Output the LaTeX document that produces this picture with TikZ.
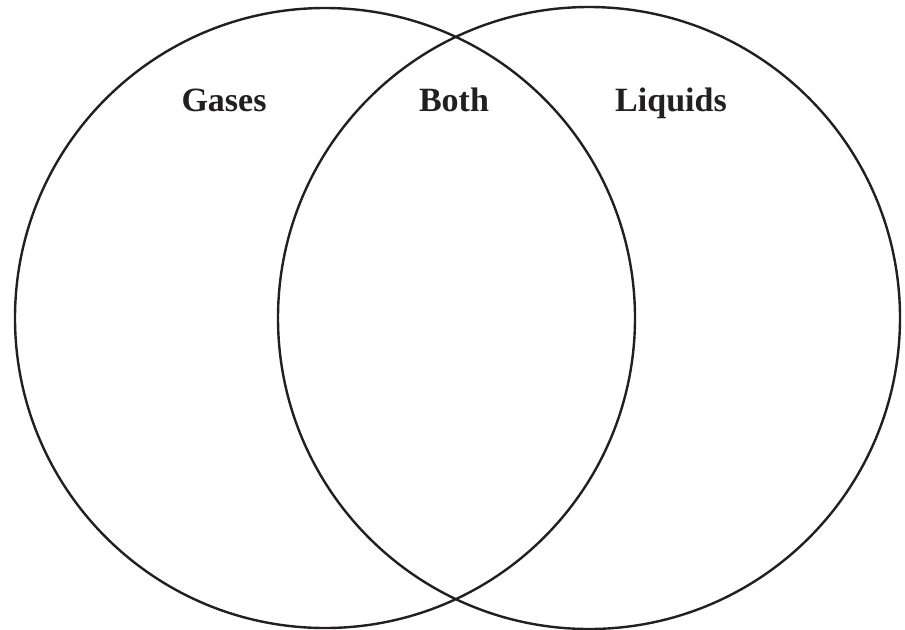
\documentclass[tikz,border=0pt]{standalone}
\usepackage{fontspec}
\setmainfont{Liberation Serif}
\usepackage{tikz}
\usetikzlibrary{positioning}
\definecolor{vennink}{RGB}{35,31,32}

\begin{document}
\begin{tikzpicture}[x=0.5pt,y=-0.5pt,
set/.style={draw=vennink,line width=1.2pt},
lbl/.style={font=\bfseries\fontsize{17}{19}\selectfont,text=vennink,anchor=base,inner sep=0pt}
]
\useasboundingbox (0,0) rectangle (905,629);
\coordinate (cgas) at (325,318);
\coordinate (cliq) at (589,318);
\draw[set] (cgas) circle[radius=310];
\draw[set] (cliq) circle[radius=311];
\node[lbl] (gas) at (224,111) {Gases};
\node[lbl] (both) at (454,111) {Both};
\node[lbl] (liq) at (671,111) {Liquids};
\end{tikzpicture}
\end{document}
